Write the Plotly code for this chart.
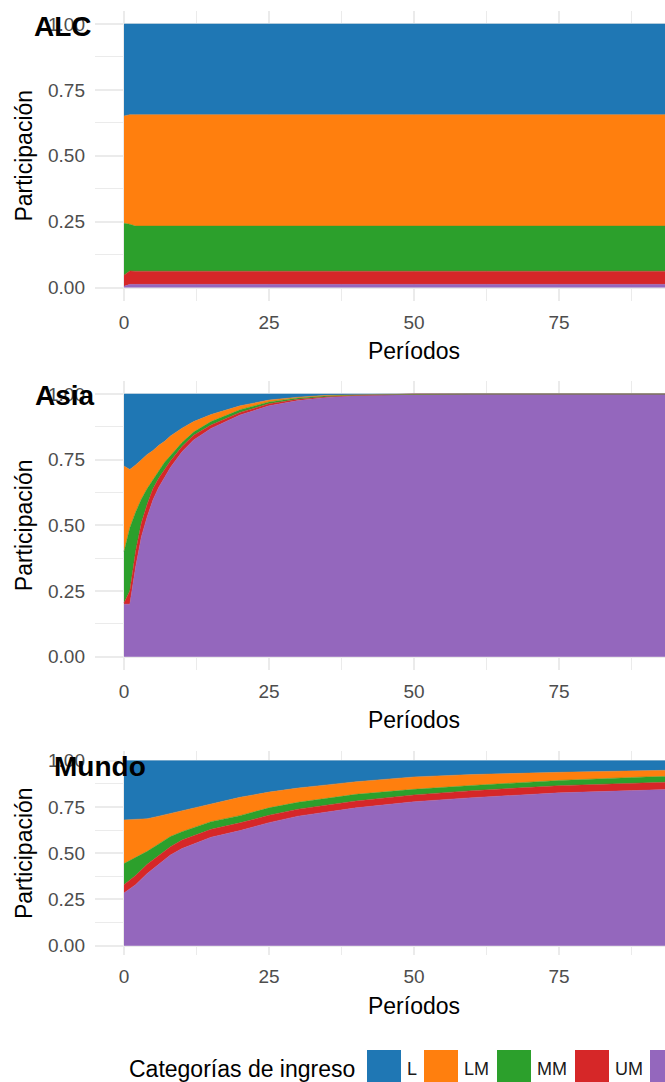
import plotly.graph_objects as go

# ---------------- data ----------------
stack_order = ["H", "UM", "MM", "LM", "L"]          # bottom -> top
legend_order = ["L", "LM", "MM", "UM", "H"]
cat_colors = {"L": "#1f77b4", "LM": "#ff7f0e", "MM": "#2ca02c", "UM": "#d62728", "H": "#9467bd"}
regions = ["ALC", "Asia", "Mundo"]
y_ticks = [0, 0.25, 0.5, 0.75, 1.0]
x_ticks = [0, 25, 50, 75]

alc_periods = [0, 1, 2, 5, 25, 50, 75, 100]
alc_H = [0.005, 0.012, 0.012, 0.012, 0.012, 0.012, 0.012, 0.012]
alc_UM = [0.042, 0.051, 0.050, 0.050, 0.050, 0.050, 0.050, 0.050]
alc_MM = [0.197, 0.177, 0.171, 0.171, 0.171, 0.171, 0.171, 0.171]
alc_LM = [0.407, 0.416, 0.423, 0.423, 0.423, 0.423, 0.423, 0.423]
alc_L = [0.349, 0.344, 0.344, 0.344, 0.344, 0.344, 0.344, 0.344]

asia_periods = [0, 1, 2, 3, 4, 5, 6, 7, 8, 10, 12, 15, 20, 25, 30, 35, 40, 45, 50, 60, 70, 80, 90, 100]
asia_H = [0.20, 0.20, 0.34, 0.457, 0.533, 0.597, 0.645, 0.685, 0.72, 0.78, 0.825, 0.869, 0.92, 0.955, 0.975, 0.987, 0.993, 0.996, 1, 1, 1, 1, 1, 1]
asia_UM = [0.005, 0.05, 0.06, 0.053, 0.047, 0.043, 0.035, 0.03, 0.025, 0.02, 0.018, 0.013, 0.01, 0.008, 0.005, 0.003, 0.002, 0.001, 0, 0, 0, 0, 0, 0]
asia_MM = [0.195, 0.24, 0.15, 0.09, 0.06, 0.035, 0.03, 0.025, 0.02, 0.015, 0.012, 0.013, 0.01, 0.007, 0.005, 0.003, 0.002, 0.001, 0, 0, 0, 0, 0, 0]
asia_LM = [0.326, 0.223, 0.18, 0.15, 0.13, 0.11, 0.095, 0.08, 0.075, 0.055, 0.04, 0.027, 0.015, 0.007, 0.003, 0.002, 0.001, 0.001, 0, 0, 0, 0, 0, 0]
asia_L = [0.274, 0.287, 0.27, 0.25, 0.23, 0.215, 0.195, 0.18, 0.16, 0.13, 0.105, 0.078, 0.045, 0.023, 0.012, 0.005, 0.002, 0.001, 0, 0, 0, 0, 0, 0]

mundo_periods = [0, 2, 4, 6, 8, 10, 15, 20, 25, 30, 35, 40, 50, 60, 75, 90, 100]
mundo_H = [0.285, 0.33, 0.39, 0.44, 0.49, 0.525, 0.586, 0.622, 0.665, 0.70, 0.724, 0.745, 0.778, 0.80, 0.826, 0.842, 0.85]
mundo_UM = [0.045, 0.05, 0.05, 0.05, 0.045, 0.046, 0.043, 0.042, 0.04, 0.038, 0.038, 0.037, 0.037, 0.038, 0.039, 0.04, 0.04]
mundo_MM = [0.114, 0.095, 0.07, 0.06, 0.055, 0.045, 0.041, 0.039, 0.04, 0.037, 0.036, 0.036, 0.03, 0.028, 0.028, 0.03, 0.03]
mundo_LM = [0.236, 0.207, 0.176, 0.15, 0.125, 0.114, 0.096, 0.099, 0.085, 0.077, 0.071, 0.068, 0.067, 0.059, 0.044, 0.035, 0.032]
mundo_L = [0.32, 0.318, 0.314, 0.30, 0.285, 0.27, 0.234, 0.198, 0.17, 0.148, 0.131, 0.114, 0.088, 0.075, 0.063, 0.053, 0.048]

region_data = {
    "ALC": (alc_periods, {"H": alc_H, "UM": alc_UM, "MM": alc_MM, "LM": alc_LM, "L": alc_L}),
    "Asia": (asia_periods, {"H": asia_H, "UM": asia_UM, "MM": asia_MM, "LM": asia_LM, "L": asia_L}),
    "Mundo": (mundo_periods, {"H": mundo_H, "UM": mundo_UM, "MM": mundo_MM, "LM": mundo_LM, "L": mundo_L}),
}

# ---------------- layout constants ----------------
W, H = 760, 1082
ML, PR = 95, 733            # plot area left / right in px
PW = PR - ML
FONT = "Liberation Sans, Arial, sans-serif"
TICK_COLOR = "#4d4d4d"
GRID = "#ebebeb"
panel_px = [(10.8, 300.7), (380.9, 669.8), (751.4, 955.0)]
title_pos = [(32, 27), (33, 396), (52, 766)]


def px_x(px):
    return (px - ML) / PW


def px_y(py):
    return 1 - py / H


fig = go.Figure()

for i, reg in enumerate(regions):
    periods, shares = region_data[reg]
    ax = "" if i == 0 else str(i + 1)
    for cat in stack_order:
        fig.add_trace(go.Scatter(
            x=periods, y=shares[cat], name=cat,
            mode="lines", stackgroup="s" + reg,
            line=dict(width=0.5, color=cat_colors[cat]),
            fillcolor=cat_colors[cat],
            xaxis="x" + ax, yaxis="y" + ax,
            showlegend=False, legendgroup=cat,
            hovertemplate=reg + " " + cat + ": %{y:.3f}<extra></extra>",
        ))
    top, bot = panel_px[i]
    fig.layout["xaxis" + ax] = dict(
        domain=[0, 1], anchor="y" + ax, range=[-5, 105],
        tickvals=x_ticks, ticktext=[str(v) for v in x_ticks],
        showgrid=True, gridcolor=GRID, gridwidth=1.5,
        minor=dict(dtick=12.5, tick0=0, showgrid=True, gridcolor=GRID, gridwidth=1.2),
        zeroline=False, showline=False, ticks="",
        tickfont=dict(family=FONT, size=19, color=TICK_COLOR),
        ticklabelstandoff=8,
        title=dict(text="Períodos", font=dict(family=FONT, size=23, color="#000000"), standoff=11),
        automargin=False, fixedrange=True,
    )
    fig.layout["yaxis" + ax] = dict(
        domain=[px_y(bot), px_y(top)], anchor="x" + ax, range=[-0.05, 1.05],
        tickvals=y_ticks, ticktext=["%.2f" % v for v in y_ticks],
        showgrid=True, gridcolor=GRID, gridwidth=1.5,
        minor=dict(dtick=0.125, tick0=0, showgrid=True, gridcolor=GRID, gridwidth=1.2),
        zeroline=False, showline=False, ticks="",
        tickfont=dict(family=FONT, size=19, color=TICK_COLOR),
        ticklabelstandoff=9,
        title=dict(text="Participación", font=dict(family=FONT, size=23, color="#000000"), standoff=8),
        automargin=False, fixedrange=True,
    )
    tx, ty = title_pos[i]
    fig.add_annotation(
        x=px_x(tx), y=px_y(ty), xref="paper", yref="paper",
        xanchor="left", yanchor="middle", showarrow=False,
        text="<b>" + reg + "</b>", font=dict(family=FONT, size=28, color="#000000"),
    )

# ---------------- legend (bottom, ggplot style) ----------------
legend_x = [367, 424, 497, 575, 650]
sq = 34
leg_top = 1050
leg_mid = 1069
fig.add_annotation(
    x=px_x(127), y=px_y(leg_mid), xref="paper", yref="paper",
    xanchor="left", yanchor="middle", showarrow=False,
    text="Categorías de ingreso", font=dict(family=FONT, size=23, color="#000000"),
)
for cat, lx in zip(legend_order, legend_x):
    fig.add_shape(
        type="rect", xref="paper", yref="paper",
        x0=px_x(lx), x1=px_x(lx + sq), y0=px_y(leg_top + sq), y1=px_y(leg_top),
        fillcolor=cat_colors[cat], line=dict(width=0),
    )
    if lx + sq + 4 < 665:   # label of the last key lies beyond the visible edge
        fig.add_annotation(
            x=px_x(lx + sq + 4), y=px_y(leg_mid), xref="paper", yref="paper",
            xanchor="left", yanchor="middle", showarrow=False,
            text=cat, font=dict(family=FONT, size=18, color="#1a1a1a"),
        )

fig.update_layout(
    width=W, height=H,
    margin=dict(l=ML, r=W - PR, t=0, b=0, pad=0),
    paper_bgcolor="white", plot_bgcolor="white",
    showlegend=False,
    font=dict(family=FONT),
)

fig.write_html(
    "out.html",
    post_script="document.body.style.margin='0';document.body.style.overflow='hidden';document.documentElement.style.overflow='hidden';",
)
